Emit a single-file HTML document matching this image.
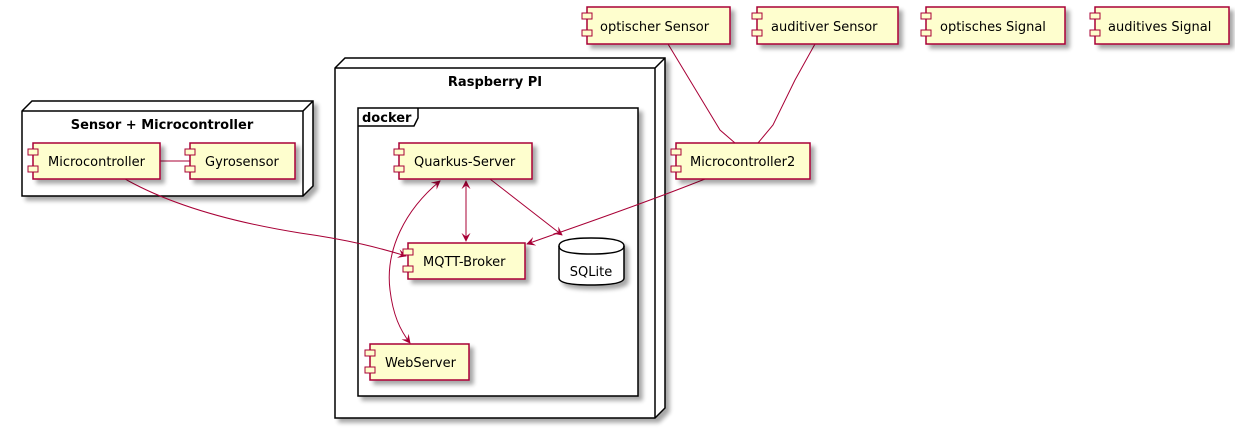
<!DOCTYPE html>
<html><head><meta charset="utf-8"><style>
html,body{margin:0;padding:0;background:#fff}
svg{display:block}
text{font-family:"DejaVu Sans",sans-serif}
</style></head><body>
<svg width="1235" height="431" viewBox="0 0 1235 431" xmlns="http://www.w3.org/2000/svg">
<defs>
<filter id="sh" x="-10%" y="-10%" width="130%" height="140%">
<feGaussianBlur in="SourceAlpha" stdDeviation="2"/>
<feOffset dx="4" dy="4"/>
<feComponentTransfer><feFuncA type="linear" slope="0.35"/></feComponentTransfer>
<feMerge><feMergeNode/><feMergeNode in="SourceGraphic"/></feMerge>
</filter>
<marker id="ar" viewBox="0 0 10 10" refX="9" refY="5" markerWidth="9" markerHeight="9" orient="auto-start-reverse">
<path d="M0,0 L10,5 L0,10 L4,5 Z" fill="#A80036"/>
</marker>
</defs>

<g filter="url(#sh)" stroke="#000" stroke-width="1.5" fill="#fff">
<path d="M22,111 L32,101 L313,101 L313,186 L303,196 L22,196 Z"/>
<path d="M22,111 L303,111 L313,101 M303,111 L303,196" fill="none"/>
</g>
<text x="162" y="129" font-size="13" font-weight="bold" text-anchor="middle">Sensor + Microcontroller</text>

<g filter="url(#sh)" stroke="#000" stroke-width="1.5" fill="#fff">
<path d="M335,68 L345,58 L665,58 L665,408 L655,418 L335,418 Z"/>
<path d="M335,68 L655,68 L665,58 M655,68 L655,418" fill="none"/>
</g>
<text x="495" y="86" font-size="13" font-weight="bold" text-anchor="middle">Raspberry PI</text>

<g filter="url(#sh)" stroke="#000" stroke-width="1.5" fill="#fff">
<rect x="358" y="108" width="280" height="288"/>
</g>
<path d="M358,126 L414,126 L418,118 L418,108" fill="none" stroke="#000" stroke-width="1.5"/>
<text x="362" y="122" font-size="13" font-weight="bold">docker</text>

<g stroke="#A80036" stroke-width="1" fill="none">
<line x1="160" y1="161" x2="190" y2="161"/>
<path d="M125,179 C180,210 250,225 300,233 C350,240 380,248 406,256" marker-end="url(#ar)"/>
<path d="M668,44 L720,130 L735,143"/>
<path d="M815,44 L795,80 L773,125 L758,143"/>
<path d="M705,179 C640,205 580,225 527,244" marker-end="url(#ar)"/>
<line x1="466" y1="181" x2="466" y2="241" marker-start="url(#ar)" marker-end="url(#ar)"/>
<line x1="490" y1="179" x2="562" y2="235" marker-end="url(#ar)"/>
<path d="M440,181 C405,210 385,250 390,290 C393,315 400,330 410,343" marker-start="url(#ar)" marker-end="url(#ar)"/>
</g>

<g font-size="13" fill="#000">
<g filter="url(#sh)" fill="#FEFECE" stroke="#A80036" stroke-width="1.5">
<rect x="33" y="143" width="127" height="36"/>
<rect x="190" y="143" width="105" height="36"/>
<rect x="399" y="143" width="133" height="36"/>
<rect x="408" y="243" width="117" height="36"/>
<rect x="370" y="344" width="99" height="36"/>
<rect x="587" y="7" width="143" height="37"/>
<rect x="757" y="7" width="141" height="37"/>
<rect x="926" y="7" width="139" height="37"/>
<rect x="1095" y="7" width="134" height="37"/>
<rect x="676" y="143" width="134" height="36"/>
</g>
<g fill="#FEFECE" stroke="#A80036" stroke-width="1">
<rect x="28" y="149" width="10" height="6"/><rect x="28" y="166" width="10" height="6"/>
<rect x="185" y="149" width="10" height="6"/><rect x="185" y="166" width="10" height="6"/>
<rect x="394" y="149" width="10" height="6"/><rect x="394" y="166" width="10" height="6"/>
<rect x="403" y="249" width="10" height="6"/><rect x="403" y="266" width="10" height="6"/>
<rect x="365" y="350" width="10" height="6"/><rect x="365" y="367" width="10" height="6"/>
<rect x="582" y="13" width="10" height="6"/><rect x="582" y="30" width="10" height="6"/>
<rect x="752" y="13" width="10" height="6"/><rect x="752" y="30" width="10" height="6"/>
<rect x="921" y="13" width="10" height="6"/><rect x="921" y="30" width="10" height="6"/>
<rect x="1090" y="13" width="10" height="6"/><rect x="1090" y="30" width="10" height="6"/>
<rect x="671" y="149" width="10" height="6"/><rect x="671" y="166" width="10" height="6"/>
</g>
<text x="48" y="166">Microcontroller</text>
<text x="205" y="166">Gyrosensor</text>
<text x="414" y="166">Quarkus-Server</text>
<text x="423" y="266">MQTT-Broker</text>
<text x="385" y="367">WebServer</text>
<text x="600" y="31">optischer Sensor</text>
<text x="771" y="31">auditiver Sensor</text>
<text x="940" y="31">optisches Signal</text>
<text x="1108" y="31">auditives Signal</text>
<text x="690" y="166">Microcontroller2</text>
</g>

<g filter="url(#sh)" fill="#fff" stroke="#000" stroke-width="1.5">
<path d="M559,246 Q559,238 591,238 Q624,238 624,246 L624,278 Q624,285 591,285 Q559,285 559,278 Z"/>
</g>
<path d="M559,246 Q559,254 591,254 Q624,254 624,246" fill="none" stroke="#000" stroke-width="1.5"/>
<text x="591" y="276" font-size="13" text-anchor="middle">SQLite</text>
</svg>
</body></html>
